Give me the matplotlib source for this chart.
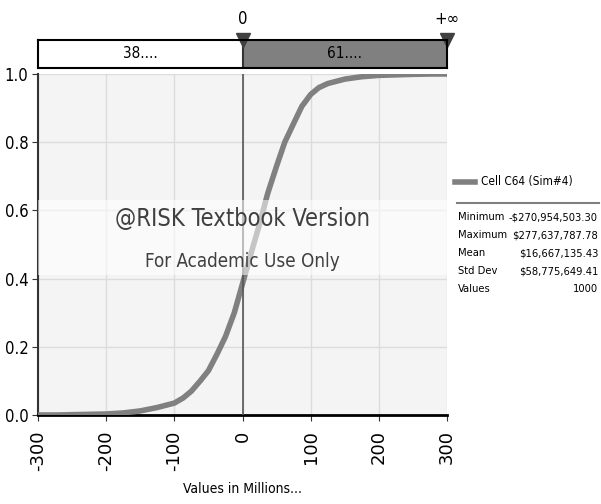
import numpy as np
import matplotlib.pyplot as plt
from matplotlib.patches import Rectangle

# CDF (values in millions)
cdf_x = [-300, -271, -250, -200, -175, -150, -125, -100, -87, -75, -62, -50, -37, -25, -12,
         0, 12, 25, 37, 50, 62, 75, 87, 100, 112, 125, 150, 175, 200, 250, 278, 300]
cdf_y = [0.0, 0.0, 0.001, 0.003, 0.006, 0.012, 0.022, 0.035, 0.05, 0.07, 0.10, 0.13, 0.18, 0.23, 0.30,
         0.385, 0.47, 0.56, 0.65, 0.73, 0.80, 0.855, 0.905, 0.94, 0.96, 0.972, 0.985, 0.992, 0.996, 0.999, 1.0, 1.0]

x_ticks = [-300, -200, -100, 0, 100, 200, 300]
y_ticks = [0.0, 0.2, 0.4, 0.6, 0.8, 1.0]
bar_labels = ["38....", "61...."]
legend_name = "Cell C64 (Sim#4)"
stat_names = ["Minimum", "Maximum", "Mean", "Std Dev", "Values"]
stat_values = ["-$270,954,503.30", "$277,637,787.78", "$16,667,135.43", "$58,775,649.41", "1000"]

narrow = dict(family='DejaVu Sans', stretch='condensed')
gray = '#808080'
dark = '#404040'

fig = plt.figure(figsize=(6.01, 5.04), dpi=100)
W, H = 601, 504

def box(l, t, r, b):
    return [l / W, 1 - b / H, (r - l) / W, (b - t) / H]

ax = fig.add_axes(box(38, 74, 447, 415))
ax.set_facecolor('#f4f4f4')
ax.plot(cdf_x, cdf_y, color=gray, lw=4, solid_capstyle='butt', zorder=3)
ax.axvline(0, color='#555555', lw=1.2, zorder=4)
ax.set_xlim(-300, 300)
ax.set_ylim(0, 1)
ax.set_xticks(x_ticks)
ax.set_yticks(y_ticks)
ax.set_xticklabels([str(v) for v in x_ticks], rotation=90, fontsize=13, family='DejaVu Sans')
ax.set_yticklabels(['%.1f' % v for v in y_ticks], fontsize=12, **narrow)
ax.grid(True, color='#dcdcdc', lw=1, zorder=0)
for s in ['top', 'right']:
    ax.spines[s].set_visible(False)
ax.spines['left'].set_color('#333333')
ax.spines['left'].set_linewidth(1.5)
ax.spines['bottom'].set_color('black')
ax.spines['bottom'].set_linewidth(2)
ax.tick_params(axis='both', length=4, color='#333333', pad=3)
ax.tick_params(axis='x', pad=7)
ax.set_xlabel("Values in Millions...", fontsize=10, labelpad=8, **narrow)

# watermark band
ax.add_patch(Rectangle((0, 0.41), 1, 0.22, transform=ax.transAxes,
                       facecolor='white', alpha=0.55, lw=0, zorder=5))
ax.text(0.5, 0.575, "@RISK Textbook Version", transform=ax.transAxes, ha='center',
        va='center', fontsize=17, color=dark, zorder=6, **narrow)
ax.text(0.5, 0.45, "For Academic Use Only", transform=ax.transAxes, ha='center',
        va='center', fontsize=13.5, color=dark, zorder=6, **narrow)

# top delimiter bar
bx = fig.add_axes(box(38, 40, 447, 68))
bx.set_xlim(-300, 300)
bx.set_ylim(0, 1)
bx.axvspan(-300, 0, color='white')
bx.axvspan(0, 300, color=gray)
bx.axvline(0, color='#333333', lw=1.5)
bx.set_xticks([])
bx.set_yticks([])
for s in bx.spines.values():
    s.set_linewidth(1.5)
bx.text(-150, 0.5, bar_labels[0], ha='center', va='center', fontsize=11, **narrow)
bx.text(150, 0.5, bar_labels[1], ha='center', va='center', fontsize=11, **narrow)
bx.plot([0, 300], [1.0, 1.0], marker='v', ms=10, color=dark, ls='none', clip_on=False)
bx.text(0, 1.75, "0", ha='center', va='center', fontsize=12, **narrow)
bx.text(300, 1.75, "+\u221e", ha='center', va='center', fontsize=12, **narrow)

# legend and statistics
fig.add_artist(plt.Line2D([455 / W, 475 / W], [1 - 182 / H] * 2, color=gray, lw=4))
fig.text(481 / W, 1 - 182 / H, legend_name, fontsize=8.5, va='center', **narrow)
fig.add_artist(plt.Line2D([457 / W, 599 / W], [1 - 203 / H] * 2, color=gray, lw=1.5))
for i, (n, v) in enumerate(zip(stat_names, stat_values)):
    y = 1 - (217 + 18 * i) / H
    fig.text(458 / W, y, n, fontsize=8, va='center', **narrow)
    fig.text(598 / W, y, v, fontsize=8, va='center', ha='right', **narrow)

fig.savefig('out.png', dpi=100)
